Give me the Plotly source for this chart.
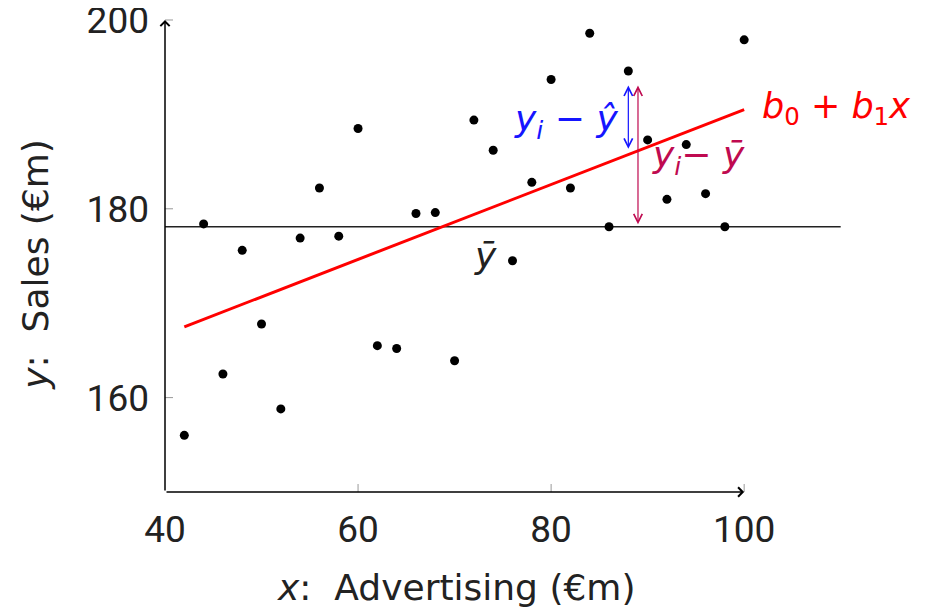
import plotly.graph_objects as go

# data
advertising = [42, 44, 46, 48, 50, 52, 54, 56, 58, 60, 62, 64, 66, 68, 70,
               72, 74, 76, 78, 80, 82, 84, 86, 88, 90, 92, 94, 96, 98, 100]
sales = [156.0, 178.4, 162.5, 175.6, 167.8, 158.8, 176.9, 182.2, 177.1, 188.5,
         165.5, 165.2, 179.5, 179.6, 163.9, 189.4, 186.2, 174.5, 182.8, 193.7,
         182.2, 198.6, 178.1, 194.6, 187.3, 181.0, 186.8, 181.6, 178.1, 197.9]
fit_x = [42, 100]
fit_y = [167.5, 190.5]
mean_x = [40, 110]
mean_y = [178.1, 178.1]
x_ticks = [40, 60, 80, 100]
y_ticks = [160, 180, 200]

TICKFONT = "Roboto"
FONT = "DejaVu Sans"
BLUE = "#1515ff"
PURPLE = "#bf0a50"
RED = "#ff0000"
INK = "#222222"

fig = go.Figure()

fig.add_trace(go.Scatter(x=mean_x, y=mean_y, mode="lines",
                         line=dict(color=INK, width=1.5), hoverinfo="skip"))
fig.add_trace(go.Scatter(x=fit_x, y=fit_y, mode="lines",
                         line=dict(color=RED, width=3), hoverinfo="skip"))
fig.add_trace(go.Scatter(x=advertising, y=sales, mode="markers",
                         marker=dict(color="black", size=9)))

# tick marks crossing the axes
for t in x_ticks[1:]:
    fig.add_shape(type="line", xref="x", yref="y", ysizemode="pixel",
                  yanchor=150, x0=t, x1=t, y0=-8, y1=8, line=dict(color="#999999", width=1))
for t in y_ticks:
    fig.add_shape(type="line", xref="x", yref="y", xsizemode="pixel", xanchor=40,
                  x0=-8, x1=8, y0=t, y1=t, line=dict(color="#999999", width=1))

# axes with arrowheads
fig.add_annotation(x=100, y=150, ax=40, ay=150, xref="x", yref="y", axref="x", ayref="y",
                   showarrow=True, arrowhead=4, arrowsize=1.2, arrowwidth=1.5,
                   arrowcolor="black", text="")
fig.add_annotation(x=40, y=200, ax=40, ay=150, xref="x", yref="y", axref="x", ayref="y",
                   showarrow=True, arrowhead=4, arrowsize=1.2, arrowwidth=1.5,
                   arrowcolor="black", text="")

# residual arrows
fig.add_annotation(x=88, y=193.05, ax=88, ay=186.2, xref="x", yref="y", axref="x", ayref="y",
                   showarrow=True, arrowhead=5, arrowside="end+start", arrowsize=1.4,
                   arrowwidth=1.2, arrowcolor=BLUE, text="")
fig.add_annotation(x=89, y=193.05, ax=89, ay=178.2, xref="x", yref="y", axref="x", ayref="y",
                   showarrow=True, arrowhead=5, arrowside="end+start", arrowsize=1.4,
                   arrowwidth=1.2, arrowcolor=PURPLE, text="")

# labels
fig.add_annotation(x=81.5, y=189.2, text="<i>y<sub>i</sub></i> − <i>ŷ</i>", showarrow=False,
                   font=dict(family=FONT, size=36, color=BLUE))
fig.add_annotation(x=95.3, y=185.4, text="<i>y<sub>i</sub></i>− <i>ȳ</i>", showarrow=False,
                   font=dict(family=FONT, size=36, color=PURPLE))
fig.add_annotation(x=109.5, y=190.6, text="<i>b</i><sub>0</sub> + <i>b</i><sub>1</sub><i>x</i>",
                   showarrow=False, font=dict(family=FONT, size=35, color=RED))
fig.add_annotation(x=73.2, y=175.1, text="<i>ȳ</i>", showarrow=False,
                   font=dict(family=FONT, size=36, color=INK))

# axis titles (paper coords: plot area spans px 165..860 across, 8..492.5 down on screen)
fig.add_annotation(xref="paper", yref="paper", x=(456 - 165) / 695, y=(492.5 - 588) / 484.5,
                   xanchor="center", yanchor="middle",
                   text="<i>x</i>:  Advertising (€m)", showarrow=False,
                   font=dict(family=FONT, size=36, color=INK))
fig.add_annotation(xref="paper", yref="paper", x=(36 - 165) / 695, y=(492.5 - 265) / 484.5,
                   xanchor="center", yanchor="middle",
                   text="<i>y</i>:  Sales (€m)", textangle=-90, showarrow=False,
                   font=dict(family=FONT, size=36, color=INK))

fig.update_xaxes(range=[40, 112], tickvals=x_ticks, ticks="", showgrid=False,
                 zeroline=False, showline=False, automargin=False, ticklabeloverflow="allow",
                 tickfont=dict(family=TICKFONT, size=37, color=INK), ticklabelstandoff=12)
fig.update_yaxes(range=[150, 201.27], tickvals=y_ticks, ticks="", showgrid=False,
                 zeroline=False, showline=False, automargin=False, ticklabeloverflow="allow",
                 tickfont=dict(family=TICKFONT, size=37, color=INK), ticklabelstandoff=15)

# page body has an 8px margin, so the figure is drawn 8px right and down
fig.update_layout(width=920, height=607, showlegend=False,
                  margin=dict(l=157, r=68, t=0, b=122.5),
                  plot_bgcolor="white", paper_bgcolor="white")

fig.write_html("out.html")
